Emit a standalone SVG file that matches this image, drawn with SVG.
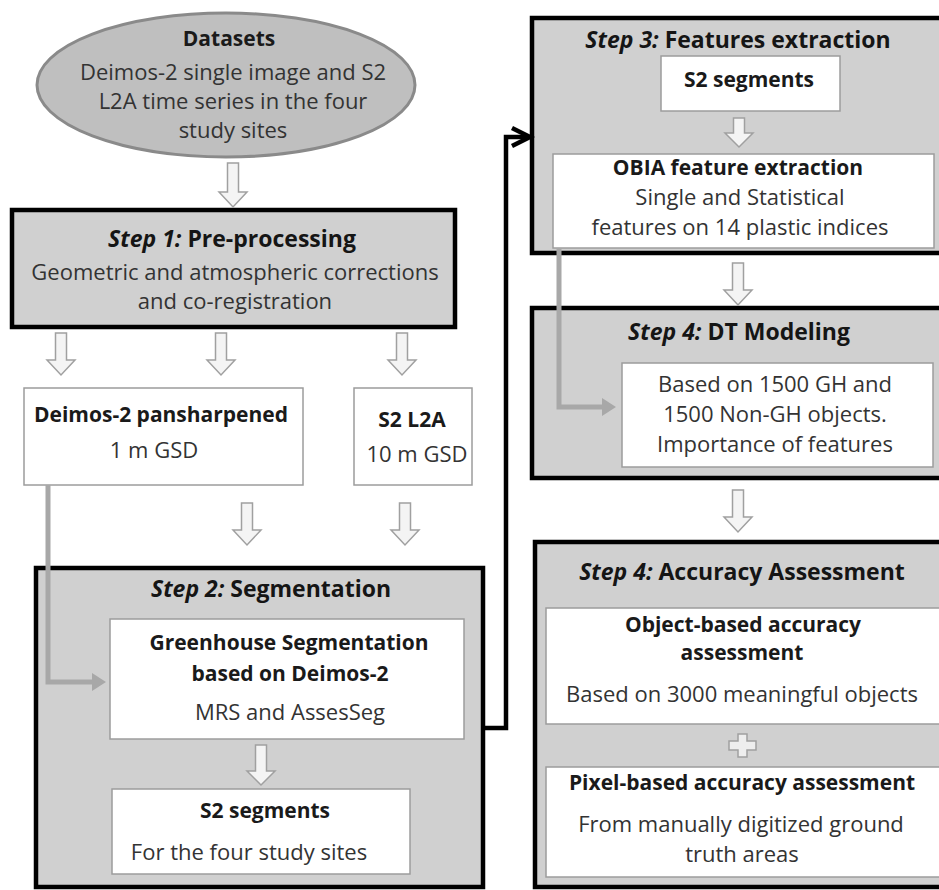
<svg xmlns="http://www.w3.org/2000/svg" xmlns:xlink="http://www.w3.org/1999/xlink" width="939" height="890" viewBox="0 0 939 890">
<style>
text{font-family:"Open Sans","Liberation Sans",sans-serif;text-anchor:middle}
.h{font-size:23px;font-weight:bold;fill:#151515}
.b{font-size:21px;font-weight:bold;fill:#1a1a1a}
.r{font-size:22px;fill:#333}
.i{font-style:italic}
.step{fill:#d0d0d0;stroke:#000;stroke-width:4.5}
.inner{fill:#fff;stroke:#9c9c9c;stroke-width:1.5}
.blk{fill:#f4f4f4;stroke:#a0a0a0;stroke-width:1.5}
.gl{fill:none;stroke:#a8a8a8;stroke-width:5}
.bl{fill:none;stroke:#000;stroke-width:4.5}
</style>
<defs>
<path id="arr" d="M-5.5,-42 H5.5 V-15 H14 L0,0 L-14,-15 H-5.5 Z" class="blk"/>
</defs>
<rect width="939" height="890" fill="#fff"/>

<g id="datasets">
<ellipse cx="226" cy="85" rx="189" ry="72" fill="#bfbfbf" stroke="#8a8a8a" stroke-width="3"/>
<text x="229" y="46" class="b">Datasets</text>
<text x="233" y="80" class="r">Deimos-2 single image and S2</text>
<text x="233" y="109" class="r">L2A time series in the four</text>
<text x="233" y="138" class="r">study sites</text>
</g>

<g id="step1">
<rect x="12" y="210" width="443" height="117" class="step" stroke-width="5"/>
<text x="232" y="247" class="h"><tspan class="i">Step 1:</tspan> Pre-processing</text>
<text x="235" y="280" class="r">Geometric and atmospheric corrections</text>
<text x="235" y="309" class="r">and co-registration</text>
</g>

<g id="deimos">
<rect x="24" y="388" width="279" height="97" class="inner"/>
<text x="161" y="422" class="b">Deimos-2 pansharpened</text>
<text x="154" y="458" class="r">1 m GSD</text>
</g>

<g id="s2l2a">
<rect x="354" y="388" width="118" height="97" class="inner"/>
<text x="412" y="427" class="b">S2 L2A</text>
<text x="417" y="462" class="r">10 m GSD</text>
</g>

<g id="step2">
<rect x="36" y="568" width="447" height="319" class="step"/>
<text x="271" y="597" class="h"><tspan class="i">Step 2:</tspan> Segmentation</text>
</g>

<g id="greenhouse">
<rect x="110" y="619" width="354" height="120" class="inner"/>
<text x="289" y="650" class="b">Greenhouse Segmentation</text>
<text x="290" y="681" class="b">based on Deimos-2</text>
<text x="290" y="720" class="r">MRS and AssesSeg</text>
</g>

<g id="s2seg2">
<rect x="112" y="789" width="298" height="85" class="inner"/>
<text x="265" y="818" class="b">S2 segments</text>
<text x="249" y="860" class="r">For the four study sites</text>
</g>

<g id="step3">
<rect x="532" y="18" width="420" height="235" class="step"/>
<text x="738" y="48" class="h"><tspan class="i">Step 3:</tspan> Features extraction</text>
</g>

<g id="s2seg3">
<rect x="661" y="56" width="179" height="55" class="inner"/>
<text x="749" y="87" class="b">S2 segments</text>
</g>

<g id="obia">
<rect x="553" y="154" width="381" height="94" class="inner"/>
<text x="738" y="175" class="b">OBIA feature extraction</text>
<text x="740" y="205" class="r">Single and Statistical</text>
<text x="740" y="235" class="r">features on 14 plastic indices</text>
</g>

<g id="step4dt">
<rect x="532" y="308" width="420" height="170" class="step"/>
<text x="739" y="340" class="h"><tspan class="i">Step 4:</tspan> DT Modeling</text>
<rect x="622" y="363" width="311" height="104" class="inner"/>
<text x="775" y="392" class="r">Based on 1500 GH and</text>
<text x="775" y="422" class="r">1500 Non-GH objects.</text>
<text x="775" y="452" class="r">Importance of features</text>
</g>

<g id="step4acc">
<rect x="535" y="542" width="420" height="345" class="step"/>
<text x="742" y="580" class="h"><tspan class="i">Step 4:</tspan> Accuracy Assessment</text>
</g>

<g id="objacc">
<rect x="546" y="608" width="400" height="116" class="inner"/>
<text x="743" y="632" class="b">Object-based accuracy</text>
<text x="742" y="660" class="b">assessment</text>
<text x="742" y="702" class="r">Based on 3000 meaningful objects</text>
</g>

<g id="pixacc">
<rect x="546" y="767" width="400" height="110" class="inner"/>
<text x="742" y="790" class="b">Pixel-based accuracy assessment</text>
<text x="741" y="832" class="r">From manually digitized ground</text>
<text x="742" y="862" class="r">truth areas</text>
</g>

<g id="connectors">
<path d="M227.5,163 H238.5 V192 H247 L233,207 L219,192 H227.5 Z" class="blk"/>
<use xlink:href="#arr" href="#arr" transform="translate(61,375)"/>
<use xlink:href="#arr" href="#arr" transform="translate(221,375)"/>
<use xlink:href="#arr" href="#arr" transform="translate(402,375)"/>
<use xlink:href="#arr" href="#arr" transform="translate(247,545)"/>
<use xlink:href="#arr" href="#arr" transform="translate(405,545)"/>
<path d="M255.5,745 H266.5 V771 H275 L261,785 L247,771 H255.5 Z" class="blk"/>
<path d="M733.5,118 H744.5 V133 H753 L739,147 L725,133 H733.5 Z" class="blk"/>
<use xlink:href="#arr" href="#arr" transform="translate(738,305)"/>
<use xlink:href="#arr" href="#arr" transform="translate(738,532)"/>
<path d="M729,741 h9 v-7 h9 v7 h9 v9 h-9 v7 h-9 v-7 h-9 z" fill="#eeeeee" stroke="#a0a0a0" stroke-width="1.5"/>
<polyline points="48,485 48,682 95,682" class="gl"/>
<polygon points="92,673 106,682 92,691" fill="#a8a8a8"/>
<polyline points="559,248 559,407 605,407" class="gl"/>
<polygon points="602,398 616,407 602,416" fill="#a8a8a8"/>
<polyline points="483,728 506,728 506,137 529,137" class="bl"/>
<polyline points="512,128 530,137 512,146" class="bl"/>
</g>
</svg>
